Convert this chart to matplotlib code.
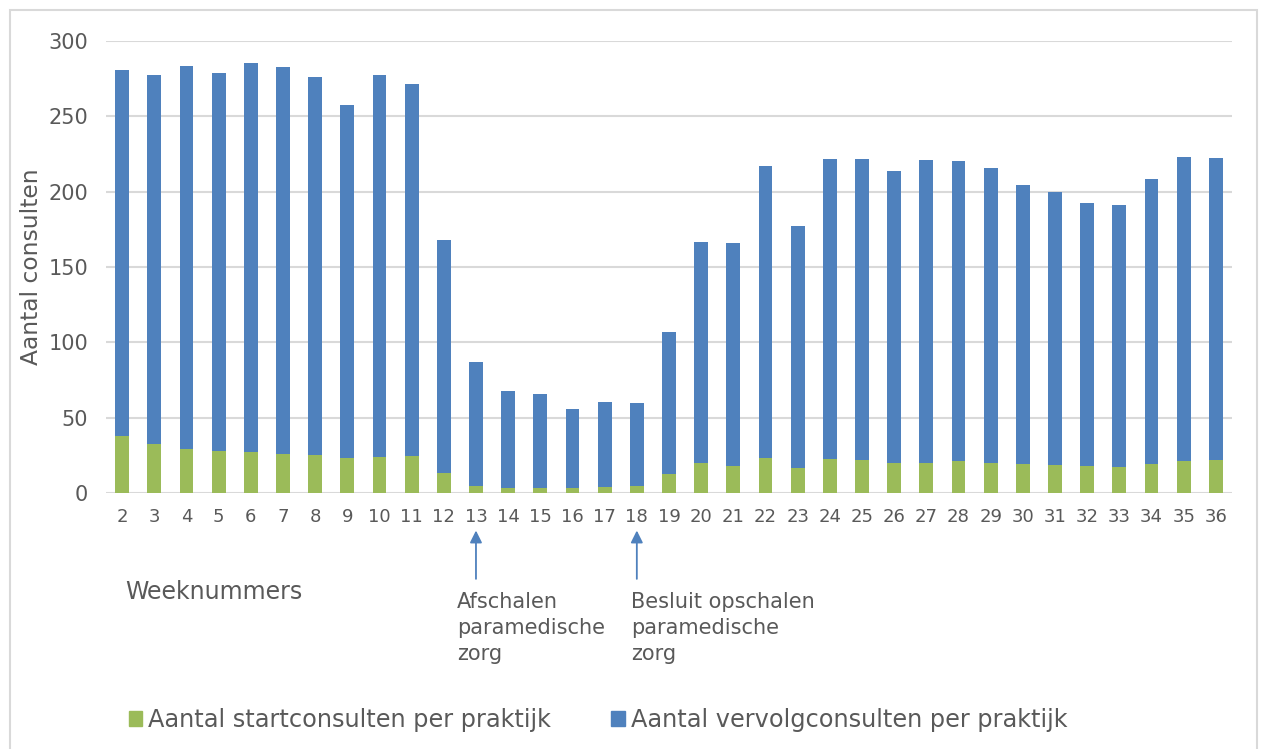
import numpy as np
import matplotlib
matplotlib.use('Agg')
import matplotlib.pyplot as plt
from matplotlib.patches import Rectangle, Patch

# week numbers and values
weeks = list(range(2, 37))
start = [37.8, 32.5, 29.0, 27.6, 27.1, 25.6, 25.4, 23.0, 23.7, 24.3,
         13.0, 4.4, 3.1, 3.1, 3.1, 3.8, 4.4, 12.4, 20.0, 17.7,
         23.4, 16.8, 22.3, 21.6, 19.6, 19.8, 21.0, 19.6, 19.2, 18.4,
         18.2, 17.5, 19.0, 21.2, 21.9]
total = [280.7, 277.6, 283.3, 278.7, 285.3, 282.7, 276.0, 257.5, 277.4, 271.4,
         167.9, 86.9, 67.7, 65.7, 55.7, 60.4, 59.7, 106.8, 166.6, 165.9,
         217.0, 177.2, 221.6, 221.6, 213.7, 221.0, 220.3, 215.7, 204.4, 199.7,
         192.4, 191.1, 208.4, 223.0, 222.3]
vervolg = [t - s for t, s in zip(total, start)]

labels = ['Aantal startconsulten per praktijk', 'Aantal vervolgconsulten per praktijk']
green = '#9BBB59'
blue = '#4F81BD'
grey_txt = '#595959'
grid_c = '#D9D9D9'

fig = plt.figure(figsize=(12.62, 7.49), dpi=100)
ax = fig.add_axes([106 / 1262, 1 - 493 / 749, (1232 - 106) / 1262, (493 - 41) / 749])

x = np.arange(len(weeks))
ax.bar(x, start, width=0.43, color=green, zorder=3)
ax.bar(x, vervolg, bottom=start, width=0.43, color=blue, zorder=3)

ax.set_xlim(-0.5, len(weeks) - 0.5)
ax.set_ylim(0, 300)
ax.set_yticks(range(0, 301, 50))
ax.set_xticks(x)
ax.set_xticklabels([str(w) for w in weeks])
ax.tick_params(axis='x', length=0, pad=11, labelsize=13, labelcolor=grey_txt)
ax.tick_params(axis='y', length=0, pad=13, labelsize=15, labelcolor=grey_txt)
ax.grid(axis='y', color=grid_c, linewidth=1.5, zorder=0)
ax.set_axisbelow(True)
for s in ax.spines.values():
    s.set_visible(False)
ax.set_ylabel('Aantal consulten', fontsize=16.8, color=grey_txt, labelpad=4)

# annotations under the axis
trans = ax.get_xaxis_transform()
for wk, txt, off in [(13, 'Afschalen\nparamedische\nzorg', -0.58),
                     (18, 'Besluit opschalen\nparamedische\nzorg', -0.19)]:
    xi = weeks.index(wk)
    ax.annotate('', xy=(xi, -0.083), xytext=(xi, -0.19),
                xycoords=trans, textcoords=trans,
                arrowprops=dict(arrowstyle='-|>', color=blue, lw=1.3,
                                mutation_scale=18, shrinkA=0, shrinkB=0))
    ax.text(xi + off, -0.218, txt, transform=trans, ha='left', va='top',
            fontsize=15, color=grey_txt, linespacing=1.38)

fig.text(125 / 1262, 1 - 592 / 749, 'Weeknummers', fontsize=17, color=grey_txt,
         ha='left', va='center')

handles = [Patch(color=green), Patch(color=blue)]
fig.legend(handles, labels, loc='center', bbox_to_anchor=(0.474, 1 - 720 / 749),
           ncol=2, frameon=False, fontsize=17.3, labelcolor=grey_txt,
           handlelength=0.55, handleheight=0.55, handletextpad=0.25,
           columnspacing=2.5)

# chart border
fig.patches.append(Rectangle((10 / 1262, -0.05), (1257 - 10) / 1262, 1.05 - 10 / 749,
                             transform=fig.transFigure, fill=False,
                             edgecolor=grid_c, linewidth=1.5))

fig.savefig('out.png', dpi=100)
